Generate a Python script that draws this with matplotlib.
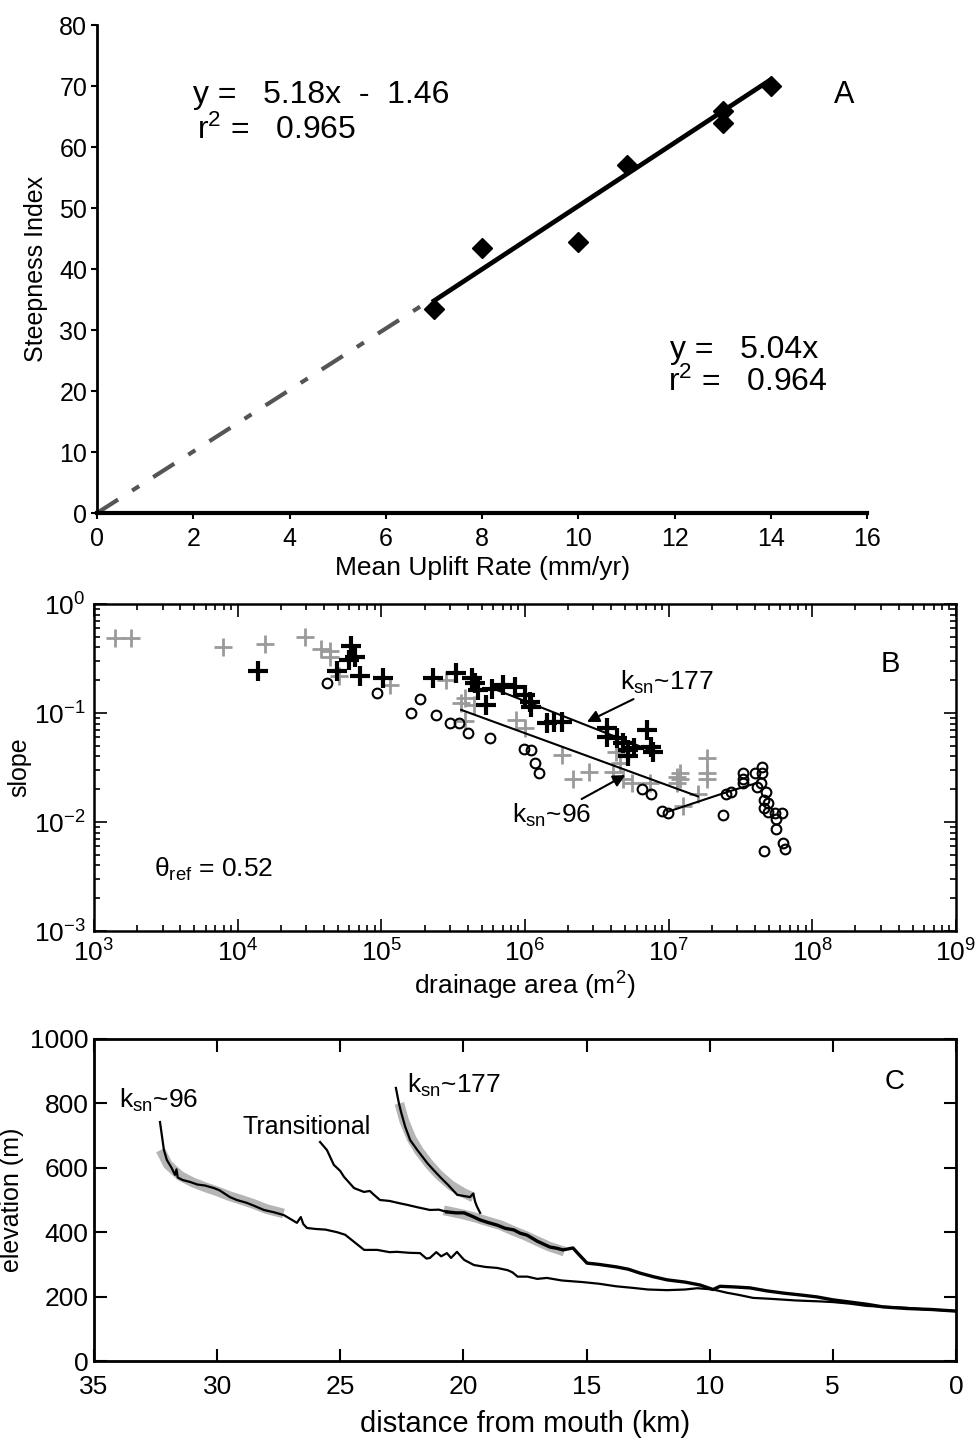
import matplotlib
matplotlib.use("Agg")
import matplotlib.pyplot as plt
from matplotlib.ticker import LogLocator, NullFormatter

plt.rcParams["font.family"] = ["Liberation Sans", "DejaVu Sans"]
plt.rcParams["mathtext.fontset"] = "custom"
plt.rcParams["mathtext.rm"] = "Liberation Sans"
plt.rcParams["mathtext.it"] = "Liberation Sans"
plt.rcParams["mathtext.default"] = "rm"
plt.rcParams["axes.unicode_minus"] = False

# ---- panel A: steepness index vs uplift rate
uplift = [7, 8, 10, 11, 13, 13, 14]
steepness = [33.5, 43.5, 44.5, 57, 66, 64, 70]
fit_x = [7, 14]
fit_y = [34.8, 71.1]
origin_fit_x = [0, 7]
origin_fit_y = [0, 35.3]

# ---- panel B: slope-area data
gray_area = [1.4e3, 1.8e3, 7.9e3, 1.55e4, 2.95e4, 3.8e4, 4.4e4, 4.4e4, 5.1e4, 1.15e5,
             2.8e5, 3.8e5, 3.6e5, 4.4e5, 3.8e5, 8.7e5, 1.0e6, 1.8e6, 2.15e6, 2.8e6,
             4.3e6, 4.1e6, 4.8e6, 4.6e6, 5.6e6, 7.4e6, 1.15e7, 1.2e7, 1.2e7, 1.15e7,
             1.85e7, 1.85e7, 1.85e7, 1.6e7, 1.26e7]
gray_slope = [0.49, 0.49, 0.40, 0.43, 0.50, 0.386, 0.37, 0.33, 0.22, 0.18,
              0.20, 0.137, 0.123, 0.118, 0.085, 0.086, 0.073, 0.041, 0.025, 0.029,
              0.044, 0.029, 0.025, 0.035, 0.023, 0.023, 0.026, 0.028, 0.025, 0.023,
              0.039, 0.028, 0.025, 0.018, 0.014]
black_area = [1.38e4, 6.2e4, 6.6e4, 6.0e4, 4.9e4, 7.1e4, 1.02e5, 2.3e5, 3.3e5, 4.3e5,
              4.5e5, 4.7e5, 5.4e5, 5.9e5, 7.0e5, 8.5e5, 1.0e6, 1.08e6, 1.1e6, 1.43e6,
              1.6e6, 1.8e6, 3.7e6, 3.7e6, 4.4e6, 4.8e6, 5.2e6, 5.7e6, 7.1e6, 7.6e6,
              7.8e6, 5.2e6]
black_slope = [0.243, 0.41, 0.33, 0.31, 0.243, 0.22, 0.21, 0.21, 0.233, 0.21,
               0.19, 0.162, 0.118, 0.166, 0.18, 0.174, 0.146, 0.126, 0.114, 0.081,
               0.083, 0.083, 0.073, 0.060, 0.059, 0.053, 0.046, 0.048, 0.070, 0.049,
               0.044, 0.040]
circle_area = [4.2e4, 9.3e4, 1.87e5, 1.6e5, 2.4e5, 3.0e5, 3.5e5, 4.0e5, 5.7e5, 9.8e5,
               1.1e6, 1.17e6, 1.26e6, 6.5e6, 7.6e6, 9.0e6, 9.9e6, 2.4e7, 2.5e7, 2.7e7,
               3.3e7, 3.3e7, 3.3e7, 4.0e7, 4.45e7, 4.45e7, 4.4e7, 4.1e7, 4.8e7, 4.6e7,
               4.9e7, 4.6e7, 4.9e7, 5.5e7, 6.2e7, 5.6e7, 5.6e7, 6.3e7, 6.5e7, 4.6e7]
circle_slope = [0.19, 0.152, 0.134, 0.10, 0.096, 0.081, 0.081, 0.066, 0.059, 0.047,
                0.046, 0.035, 0.028, 0.020, 0.018, 0.0125, 0.012, 0.0116, 0.018, 0.019,
                0.028, 0.025, 0.023, 0.028, 0.032, 0.028, 0.023, 0.021, 0.019, 0.016,
                0.015, 0.0135, 0.0123, 0.012, 0.012, 0.0107, 0.0087, 0.0064, 0.0056, 0.0054]
ksn177_area = [6.0e5, 7.6e6]
ksn177_slope = [0.168, 0.045]
ksn96_area = [3.6e5, 1.6e7]
ksn96_slope = [0.107, 0.0172]
trunk_area = [1.0e7, 2.6e7, 4.2e7]
trunk_slope = [0.0125, 0.019, 0.023]
ytick_vals = [1e-3, 1e-2, 1e-1, 1e0]
ytick_text = ["10$^{-3}$", "10$^{-2}$", "10$^{-1}$", "10$^{0}$"]

# ---- panel C: long profiles
dist96 = [32.32, 32.16, 32.04, 31.85, 31.71, 31.65, 31.6, 31.4, 31.1, 30.8, 30.5, 30.13,
          29.9, 29.48, 29.2, 28.79, 28.5, 28.1, 27.7, 27.29, 27.0, 26.76, 26.6, 26.5,
          26.35, 26.0, 25.6, 25.13, 24.8, 24.44, 24.03, 23.5, 23.0, 22.7, 22.2, 21.76,
          21.5, 21.36, 21.1, 20.9, 20.67, 20.5, 20.26, 20.1, 19.97, 19.57, 19.1, 18.63,
          18.2, 18.0, 17.8, 17.4, 17.0, 16.61, 16.0, 15.15, 14.5, 13.8, 13.11, 12.5,
          11.73, 11.0, 10.5, 9.86, 9.3, 8.8, 8.24, 7.5, 6.5, 5.5, 4.99, 4.3, 3.61, 2.8,
          2.0, 1.2, 0.6, 0.0]
elev96 = [742, 655, 624, 600, 578, 595, 570, 562, 556, 548, 545, 537,
          530, 509, 500, 491, 482, 469, 462, 453, 440, 429, 447, 425,
          413, 410, 408, 400, 392, 370, 345, 345, 338, 339, 336, 335,
          318, 320, 338, 325, 335, 320, 339, 325, 314, 298, 292, 289,
          282, 275, 262, 262, 255, 258, 250, 245, 240, 232, 227, 222,
          220, 222, 226, 222, 212, 205, 196, 193, 188, 185, 183, 178, 171, 168,
          165, 160, 158, 155]
dist_trans = [25.82, 25.54, 25.26, 25.0, 24.85, 24.44, 24.04, 23.8, 23.63, 23.39, 23.0,
              22.6, 22.29, 21.9, 21.36, 21.0, 20.67]
elev_trans = [680, 655, 609, 590, 572, 537, 525, 528, 516, 500, 497,
              490, 485, 478, 469, 470, 463]
dist_main = [20.67, 20.3, 19.97, 19.6, 19.32, 19.0, 18.63, 18.3, 17.95, 17.7, 17.42, 17.0,
             16.49, 16.2, 15.96, 15.55, 15.3, 14.98, 14.5, 13.77, 13.3, 12.83, 12.3, 11.73,
             11.0, 10.39, 9.86, 9.58, 9.0, 8.36, 7.7, 7.02, 6.3, 5.64, 5.0, 4.3, 3.6, 2.96,
             2.0, 1.0, 0.0]
elev_main = [463, 460, 460, 448, 438, 430, 422, 412, 407, 397, 391, 372,
             354, 350, 345, 351, 330, 304, 300, 292, 285, 273, 262, 252,
             245, 236, 222, 232, 230, 227, 218, 211, 205, 199, 190, 183, 176, 168,
             163, 160, 155]
dist177 = [22.74, 22.62, 22.52, 22.36, 22.16, 21.87, 21.47, 21.2, 20.94, 20.6, 20.25,
           19.95, 19.73, 19.6, 19.52, 19.45, 19.32]
elev177 = [848, 801, 770, 727, 686, 655, 615, 592, 571, 545, 516,
           512, 509, 520, 494, 480, 460]
band96_dist = [32.3, 32.0, 31.5, 31.0, 30.5, 30.0, 29.5, 29.0, 28.5, 28.0, 27.3]
band96_elev = [655, 610, 575, 555, 540, 527, 512, 500, 487, 472, 458]
band177_dist = [22.6, 22.4, 22.1, 21.8, 21.4, 21.0, 20.5, 20.0, 19.6]
band177_elev = [800, 745, 690, 652, 612, 578, 545, 522, 508]
bandT_dist = [20.8, 20.0, 19.5, 19.0, 18.5, 18.0, 17.5, 17.0, 16.5, 15.9]
bandT_elev = [468, 455, 445, 433, 422, 405, 390, 372, 355, 340]

fig = plt.figure(figsize=(9.75, 14.39), dpi=100)

# ================= A =================
axA = fig.add_axes([0.0995, 0.6435, 0.790, 0.339])
axA.plot(origin_fit_x, origin_fit_y, color="#555555", lw=3, ls=(0, (6, 4, 2, 4)))
axA.plot(fit_x, fit_y, color="black", lw=3.4)
axA.plot(uplift, steepness, "D", color="black", ms=10)
axA.set_xlim(0, 16)
axA.set_ylim(0, 80)
axA.set_xticks(range(0, 17, 2))
axA.set_yticks(range(0, 81, 10))
for s in ("top", "right"):
    axA.spines[s].set_visible(False)
axA.spines["bottom"].set_linewidth(3)
axA.spines["left"].set_linewidth(2)
axA.tick_params(direction="out", length=4, width=1.5, labelsize=18, pad=3)
axA.tick_params(axis="x", pad=6)
axA.set_xlabel("Mean Uplift Rate (mm/yr)", fontsize=19, labelpad=4)
axA.set_ylabel("Steepness Index", fontsize=18, labelpad=8)
axA.text(2.0, 68.5, "y =   5.18x  -  1.46", fontsize=23, va="center")
axA.text(2.08, 62.8, "r$^2$ =   0.965", fontsize=23, va="center")
axA.text(15.3, 68.5, "A", fontsize=22, va="center")
axA.text(11.9, 26.7, "y =   5.04x", fontsize=23, va="center")
axA.text(11.87, 21.5, "r$^2$ =   0.964", fontsize=23, va="center")

# ================= B =================
axB = fig.add_axes([0.0964, 0.353, 0.884, 0.2272])
axB.set_xscale("log")
axB.set_yscale("log")
axB.plot(gray_area, gray_slope, "+", color="#9a9a9a", ms=13, mew=2)
axB.plot(circle_area, circle_slope, "o", mfc="none", mec="black", ms=7, mew=1.5)
axB.plot(black_area, black_slope, "+", color="black", ms=14, mew=3)
axB.plot(ksn177_area, ksn177_slope, color="black", lw=1.5)
axB.plot(ksn96_area, ksn96_slope, color="black", lw=1.5)
axB.plot(trunk_area, trunk_slope, color="black", lw=1.5)
axB.set_xlim(1e3, 1e9)
axB.set_ylim(1e-3, 1e0)
axB.xaxis.set_major_locator(LogLocator(base=10, numticks=10))
axB.xaxis.set_minor_locator(LogLocator(base=10, subs=range(2, 10), numticks=20))
axB.yaxis.set_minor_locator(LogLocator(base=10, subs=range(2, 10), numticks=20))
axB.set_yticks(ytick_vals)
axB.set_yticklabels(ytick_text)
axB.xaxis.set_minor_formatter(NullFormatter())
axB.yaxis.set_minor_formatter(NullFormatter())
axB.tick_params(which="both", direction="in", top=True, right=True, width=1.2)
axB.tick_params(which="major", length=9, labelsize=19, pad=6)
axB.tick_params(which="minor", length=4)
for s in axB.spines.values():
    s.set_linewidth(1.8)
axB.set_xlabel("drainage area (m$^2$)", fontsize=19, labelpad=2)
axB.set_ylabel("slope", fontsize=18, labelpad=2)
axB.annotate(r"k$_{\mathrm{sn}}$~177", xy=(2.7e6, 0.083), xytext=(4.6e6, 0.19),
             fontsize=19, ha="left", va="center",
             arrowprops=dict(arrowstyle="-|>", color="black", lw=1.5, shrinkA=0, shrinkB=0,
                             mutation_scale=18))
axB.annotate(r"k$_{\mathrm{sn}}$~96", xy=(5.0e6, 0.027), xytext=(2.9e6, 0.0115),
             fontsize=19, ha="right", va="center",
             arrowprops=dict(arrowstyle="-|>", color="black", lw=1.5, shrinkA=0, shrinkB=0,
                             mutation_scale=18))
axB.text(2.6e3, 0.0037, r"θ$_{\mathrm{ref}}$ = 0.52", fontsize=19, va="center")
axB.text(3.0e8, 0.28, "B", fontsize=21, va="center")

# ================= C =================
axC = fig.add_axes([0.0964, 0.0542, 0.884, 0.2238])
axC.plot(band96_dist, band96_elev, color="#b5b5b5", lw=7, solid_capstyle="butt")
axC.plot(band177_dist, band177_elev, color="#b5b5b5", lw=7, solid_capstyle="butt")
axC.plot(bandT_dist, bandT_elev, color="#b5b5b5", lw=7, solid_capstyle="butt")
axC.plot(dist96, elev96, color="black", lw=1.6)
axC.plot(dist_trans, elev_trans, color="black", lw=1.6)
axC.plot(dist177, elev177, color="black", lw=1.6)
axC.plot(dist_main, elev_main, color="black", lw=2.4)
axC.set_xlim(35, 0)
axC.set_ylim(0, 1000)
axC.set_xticks(range(35, -1, -5))
axC.set_yticks(range(0, 1001, 200))
axC.tick_params(direction="in", top=True, right=True, length=9, width=1.5,
                labelsize=19, pad=4)
axC.tick_params(axis="x", pad=10)
for s in axC.spines.values():
    s.set_linewidth(2)
axC.set_xlabel("distance from mouth (km)", fontsize=21, labelpad=8)
axC.set_ylabel("elevation (m)", fontsize=18, labelpad=4)
axC.text(34.0, 810, r"k$_{\mathrm{sn}}$~96", fontsize=19, va="center")
axC.text(28.95, 728, "Transitional", fontsize=18, va="center")
axC.text(22.3, 855, r"k$_{\mathrm{sn}}$~177", fontsize=19, va="center")
axC.text(2.9, 866, "C", fontsize=20, va="center")

fig.savefig("out.png", dpi=100)
